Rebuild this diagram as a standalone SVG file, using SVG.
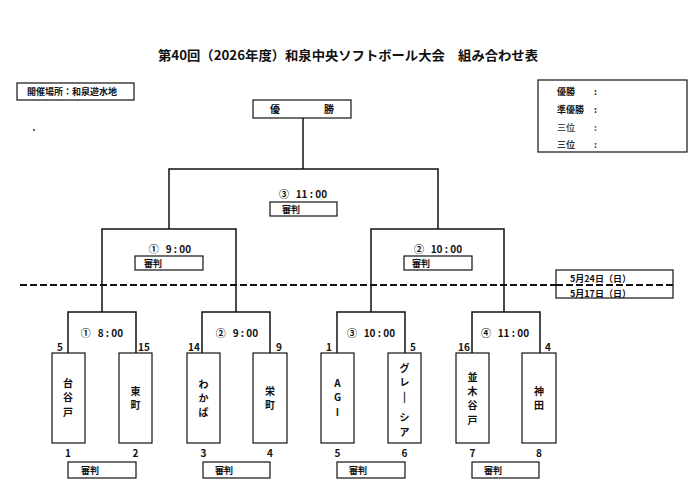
<svg xmlns="http://www.w3.org/2000/svg" width="700" height="488" viewBox="0 0 700 488">
<style>
text{font-family:"Noto Sans CJK JP","Liberation Sans",sans-serif;fill:#111}
.title{font-size:13px;font-weight:bold}
.sm{font-size:9px;font-weight:bold}
.tm{font-size:10px;font-weight:bold}
.nm{font-size:10px;font-weight:bold;text-anchor:middle}
.ln{fill:none;stroke:#111;stroke-width:1.5}
.bx{fill:#fff;stroke:#111;stroke-width:1.2}
</style>
<rect width="700" height="488" fill="#fff"/>
<text class="title" x="158" y="60" textLength="380" lengthAdjust="spacingAndGlyphs">第40回（2026年度）和泉中央ソフトボール大会　組み合わせ表</text>
<g id="venue"><rect class="bx" x="17" y="83" width="117" height="17"/><text class="sm" x="27" y="95">開催場所：和泉遊水地</text></g>
<circle cx="34" cy="130" r="0.9" fill="#222"/>
<g id="results">
<rect class="bx" x="538" y="80" width="149" height="72"/>
<text class="sm" x="557" y="95">優勝</text><text class="sm" x="594" y="95">:</text>
<text class="sm" x="557" y="113">準優勝</text><text class="sm" x="594" y="113">:</text>
<text class="sm" x="557" y="131" style="fill:#555">三位</text><text class="sm" x="594" y="131" style="fill:#555">:</text>
<text class="sm" x="557" y="148" style="fill:#333">三位</text><text class="sm" x="594" y="148" style="fill:#333">:</text>
</g>
<g id="winner"><rect class="bx" x="253" y="100" width="98" height="18"/><text class="tm" x="270" y="113">優</text><text class="tm" x="324" y="113">勝</text></g>
<g id="connectors">
<path class="ln" d="M303 118V169M169 229V169H438V229"/>
<path class="ln" d="M102 312V229H236V312M371 312V229H504V312"/>
<path class="ln" d="M68 353V312H136V353M202 353V312H270V353M337 353V312H405V353M472 353V312H540V353"/>
<line x1="20" y1="285" x2="673" y2="285" stroke="#111" stroke-width="2" stroke-dasharray="7,3"/>
</g>
<g id="final"><text class="tm" x="303" y="198" text-anchor="middle" xml:space="preserve">③   11 : 00</text><rect class="bx" x="270" y="202" width="67" height="14"/><text class="sm" x="282" y="213">審判</text></g>
<g id="semi1"><text class="tm" x="170" y="253" text-anchor="middle" xml:space="preserve">①   9 : 00</text><rect class="bx" x="135" y="256" width="68" height="14"/><text class="sm" x="144" y="267">審判</text></g>
<g id="semi2"><text class="tm" x="438" y="253" text-anchor="middle" xml:space="preserve">②   10 : 00</text><rect class="bx" x="404" y="256" width="68" height="14"/><text class="sm" x="412" y="267">審判</text></g>
<g id="dates"><rect class="bx" x="556" y="270" width="117" height="28" fill="none"/><line x1="556" y1="285" x2="673" y2="285" stroke="#111" stroke-width="2" stroke-dasharray="7,3"/><text class="sm" x="570" y="282">5月24日（日）</text><text class="sm" x="570" y="297">5月17日（日）</text></g>
<g id="q1"><text class="tm" x="102" y="337" text-anchor="middle" xml:space="preserve">①   8 : 00</text></g>
<g id="q2"><text class="tm" x="237" y="337" text-anchor="middle" xml:space="preserve">②   9 : 00</text></g>
<g id="q3"><text class="tm" x="371" y="337" text-anchor="middle" xml:space="preserve">③   10 : 00</text></g>
<g id="q4"><text class="tm" x="505" y="337" text-anchor="middle" xml:space="preserve">④   11 : 00</text></g>
<g id="seeds" class="sm">
<text class="nm" x="60" y="351">5</text><text class="nm" x="144" y="351">15</text>
<text class="nm" x="194" y="351">14</text><text class="nm" x="279" y="351">9</text>
<text class="nm" x="329" y="351">1</text><text class="nm" x="413" y="351">5</text>
<text class="nm" x="464" y="351">16</text><text class="nm" x="548" y="351">4</text>
</g>
<g id="t1"><rect class="bx" x="52" y="353" width="33" height="90"/><text class="nm" x="68" y="387">台</text><text class="nm" x="68" y="401">谷</text><text class="nm" x="68" y="416">戸</text><text class="nm" x="68" y="457">1</text></g>
<g id="t2"><rect class="bx" x="119" y="353" width="33" height="90"/><text class="nm" x="135.5" y="395">東</text><text class="nm" x="135.5" y="409">町</text><text class="nm" x="135.5" y="457">2</text></g>
<g id="t3"><rect class="bx" x="187" y="353" width="33" height="90"/><text class="nm" x="203.5" y="388">わ</text><text class="nm" x="203.5" y="402">か</text><text class="nm" x="203.5" y="416">ば</text><text class="nm" x="203.5" y="457">3</text></g>
<g id="t4"><rect class="bx" x="253" y="353" width="34" height="90"/><text class="nm" x="270" y="395">栄</text><text class="nm" x="270" y="409">町</text><text class="nm" x="270" y="457">4</text></g>
<g id="t5"><rect class="bx" x="321" y="353" width="33" height="90"/><text class="nm" x="337.5" y="387">A</text><text class="nm" x="337.5" y="401">G</text><text class="nm" x="337.5" y="416">I</text><text class="nm" x="337.5" y="457">5</text></g>
<g id="t6"><rect class="bx" x="388" y="353" width="33" height="90"/><text class="nm" x="404.5" y="372">グ</text><text class="nm" x="404.5" y="386">レ</text><text class="nm" x="404.5" y="400">|</text><text class="nm" x="404.5" y="421">シ</text><text class="nm" x="404.5" y="436">ア</text><text class="nm" x="404.5" y="457">6</text></g>
<g id="t7"><rect class="bx" x="456" y="353" width="33" height="90"/><text class="nm" x="472.5" y="381">並</text><text class="nm" x="472.5" y="395">木</text><text class="nm" x="472.5" y="409">谷</text><text class="nm" x="472.5" y="424">戸</text><text class="nm" x="472.5" y="457">7</text></g>
<g id="t8"><rect class="bx" x="522" y="353" width="34" height="90"/><text class="nm" x="539" y="395">神</text><text class="nm" x="539" y="409">田</text><text class="nm" x="539" y="457">8</text></g>
<g id="ref1"><rect class="bx" x="68" y="462" width="68" height="16"/><text class="sm" x="81" y="474">審判</text></g>
<g id="ref2"><rect class="bx" x="203" y="462" width="67" height="16"/><text class="sm" x="215" y="474">審判</text></g>
<g id="ref3"><rect class="bx" x="337" y="462" width="68" height="16"/><text class="sm" x="349" y="474">審判</text></g>
<g id="ref4"><rect class="bx" x="472" y="462" width="67" height="16"/><text class="sm" x="484" y="474">審判</text></g>
</svg>
